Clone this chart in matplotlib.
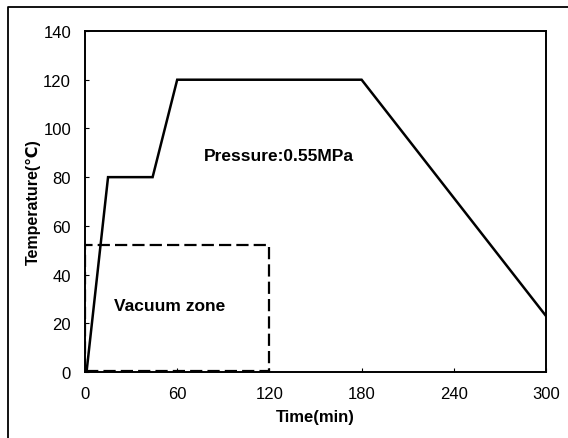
import matplotlib
matplotlib.use("Agg")
import matplotlib.pyplot as plt
from matplotlib.lines import Line2D

plt.rcParams['font.family'] = ['Liberation Sans', 'DejaVu Sans']

# Data
time_min = [0, 1, 15, 44, 60, 180, 300]
temperature = [0, 0, 80, 80, 120, 120, 23]
vac_time = [0, 0, 120, 120, 0]
vac_temp = [0.5, 52, 52, 0.5, 0.5]
xticks = [0, 60, 120, 180, 240, 300]
yticks = [0, 20, 40, 60, 80, 100, 120, 140]

W, H = 568, 439
fig = plt.figure(figsize=(W / 100, H / 100), dpi=100)
ax = fig.add_axes([85 / W, 1 - 373 / H, (546 - 85) / W, (373 - 32) / H])

ax.plot(time_min, temperature, color="black", lw=1.8, solid_joinstyle="miter")
ax.plot(vac_time, vac_temp, color="black", lw=1.6, dashes=(5.5, 2.3))

ax.set_xlim(0, 300)
ax.set_ylim(0, 140)
ax.set_xticks(xticks)
ax.set_yticks(yticks)
ax.tick_params(direction="in", length=3, labelsize=12, pad=10)
for s in ax.spines.values():
    s.set_linewidth(1.4)

ax.set_xlabel("Time(min)", fontsize=12, fontweight="bold", labelpad=6)
ax.set_ylabel("Temperature(℃)", fontsize=11.5, fontweight="bold", labelpad=2)

ax.text(126, 88.7, "Pressure:0.55MPa", fontsize=12.5, fontweight="bold",
        ha="center", va="center")
ax.text(55, 27.5, "Vacuum zone", fontsize=12.5, fontweight="bold",
        ha="center", va="center")

# outer frame (left and top)
fig.add_artist(Line2D([8 / W, 8 / W, 1.0], [0, 1 - 8 / H, 1 - 8 / H],
                      transform=fig.transFigure, color="black", lw=1.3))

fig.savefig("out.png", dpi=100, facecolor="white")
